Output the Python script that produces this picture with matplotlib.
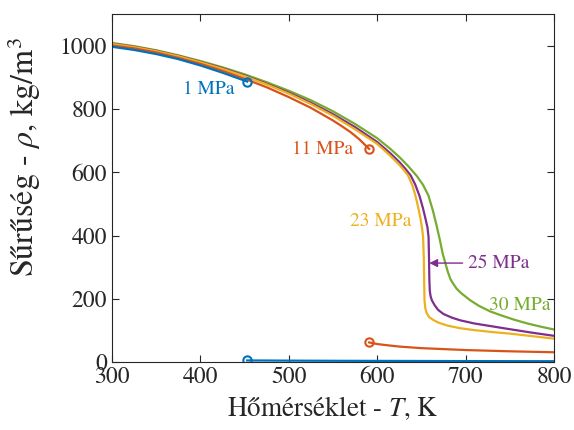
import numpy as np
import matplotlib
matplotlib.use("Agg")
import matplotlib.pyplot as plt

plt.rcParams["font.family"] = ["STIXGeneral", "DejaVu Serif"]
plt.rcParams["mathtext.fontset"] = "stix"

# Sűrűség adatok (T [K], rho [kg/m3])
t_1_liq = [300, 325, 350, 375, 400, 425, 453]
rho_1_liq = [997, 987, 974, 958, 938, 915, 887]
t_1_vap = [453, 500, 550, 600, 650, 700, 750, 800]
rho_1_vap = [5.1, 4.5, 4.0, 3.7, 3.4, 3.1, 2.9, 2.7]

t_11_liq = [300, 325, 350, 375, 400, 425, 450, 475, 500, 525, 550, 560, 570,
            580, 591]
rho_11_liq = [1001, 992, 979, 962, 943, 921, 896, 869, 838, 804, 764, 746, 727,
              704, 674]
t_11_vap = [591, 600, 612, 625, 650, 675, 700, 750, 800]
rho_11_vap = [62, 57, 53, 49, 44, 41, 38, 34, 31]

t_23 = [300, 325, 350, 375, 400, 425, 450, 475, 500, 525, 550, 575, 600, 615,
        625, 630, 635, 640, 643, 646, 649, 651, 652, 652.8, 653.2, 653.6, 654.5,
        656, 659, 663.5, 670, 680, 694, 710, 730, 750, 775, 800]
rho_23 = [1006, 996, 983, 967, 948, 927, 904, 878, 849, 816, 779, 736, 690, 652,
          624, 608, 590, 558, 530, 495, 455, 420, 395, 330, 260, 196, 170,
          155, 142, 133, 124, 115, 107, 101, 95, 90, 82, 74]

t_25 = [300, 325, 350, 375, 400, 425, 450, 475, 500, 525, 550, 575, 600, 615,
        625, 632, 638, 643, 648, 652, 655, 657, 658.2, 658.7, 659.1, 659.6,
        660.5, 662, 665, 669, 675, 685, 694, 710, 730, 750, 775, 800]
rho_25 = [1007, 997, 984, 968, 949, 929, 906, 880, 852, 820, 784, 743, 696, 660,
          633, 611, 590, 562, 525, 485, 450, 425, 395, 330, 260, 225,
          208, 195, 180, 165, 152, 140, 132, 122, 113, 104, 93, 83]

t_30 = [300, 325, 350, 375, 400, 425, 450, 475, 500, 525, 550, 575, 600, 615,
        626, 635, 645, 652, 658, 663, 667, 671, 674, 677, 680, 683, 686, 690,
        695, 705, 715, 728, 740, 755, 770, 785, 800]
rho_30 = [1009, 999, 986, 970, 952, 932, 910, 885, 858, 828, 793, 753, 708, 674,
          646, 620, 588, 560, 527, 480, 435, 386, 345, 315, 285, 262, 248, 232,
          218, 196, 178, 160, 148, 134, 122, 112, 103]

# telítési pontok
t_sat = [453, 591]
rho_sat_liq = [887, 674]
rho_sat_vap = [5.1, 62]

c_blue = "#0072BD"
c_orange = "#D95319"
c_yellow = "#EDB120"
c_purple = "#7E2F8E"
c_green = "#77AC30"

fig = plt.figure(figsize=(5.74, 4.30), dpi=100)
ax = fig.add_axes([0.195, 0.158, 0.77, 0.809])

lw = 1.6
ax.plot(t_30, rho_30, color=c_green, lw=lw)
ax.plot(t_25, rho_25, color=c_purple, lw=lw)
ax.plot(t_23, rho_23, color=c_yellow, lw=lw)
ax.plot(t_11_liq, rho_11_liq, color=c_orange, lw=lw)
ax.plot(t_11_vap, rho_11_vap, color=c_orange, lw=lw)
ax.plot(t_1_liq, rho_1_liq, color=c_blue, lw=lw)
ax.plot(t_1_vap, rho_1_vap, color=c_blue, lw=lw)

ax.plot(t_sat[0], rho_sat_liq[0], "o", mfc="none", mec=c_blue, mew=1.5, ms=6)
ax.plot(t_sat[0], rho_sat_vap[0], "o", mfc="none", mec=c_blue, mew=1.5, ms=6)
ax.plot(t_sat[1], rho_sat_liq[1], "o", mfc="none", mec=c_orange, mew=1.5, ms=6)
ax.plot(t_sat[1], rho_sat_vap[1], "o", mfc="none", mec=c_orange, mew=1.5, ms=6)

fs = 14
ax.text(439, 862, "1 MPa", color=c_blue, fontsize=fs, ha="right", va="center")
ax.text(573, 671, "11 MPa", color=c_orange, fontsize=fs, ha="right", va="center")
ax.text(639, 444, "23 MPa", color=c_yellow, fontsize=fs, ha="right", va="center")
ax.text(727, 178, "30 MPa", color=c_green, fontsize=fs, ha="left", va="center")
ax.annotate("25 MPa", xy=(659, 313), xytext=(703, 313), color=c_purple,
            fontsize=fs, ha="left", va="center",
            arrowprops=dict(arrowstyle="-|>", color=c_purple, lw=1.0,
                            mutation_scale=12, shrinkA=2, shrinkB=0))

ax.set_xlim(300, 800)
ax.set_ylim(0, 1100)
ax.set_xticks([300, 400, 500, 600, 700, 800])
ax.set_yticks([0, 200, 400, 600, 800, 1000])
ax.tick_params(direction="in", top=True, right=True, length=5, width=0.8,
               labelsize=17, colors="#262626")
for s in ax.spines.values():
    s.set_color("#262626")
    s.set_linewidth(0.8)

ax.set_xlabel(r"Hőmérséklet - $\mathit{T}$, K", fontsize=19.5, color="#262626")
ax.set_ylabel(r"Sűrűség - $\rho$, kg/m$^3$", fontsize=23, color="#262626")
ax.yaxis.set_label_coords(-0.155, 0.59)

fig.savefig("out.png", dpi=100)
